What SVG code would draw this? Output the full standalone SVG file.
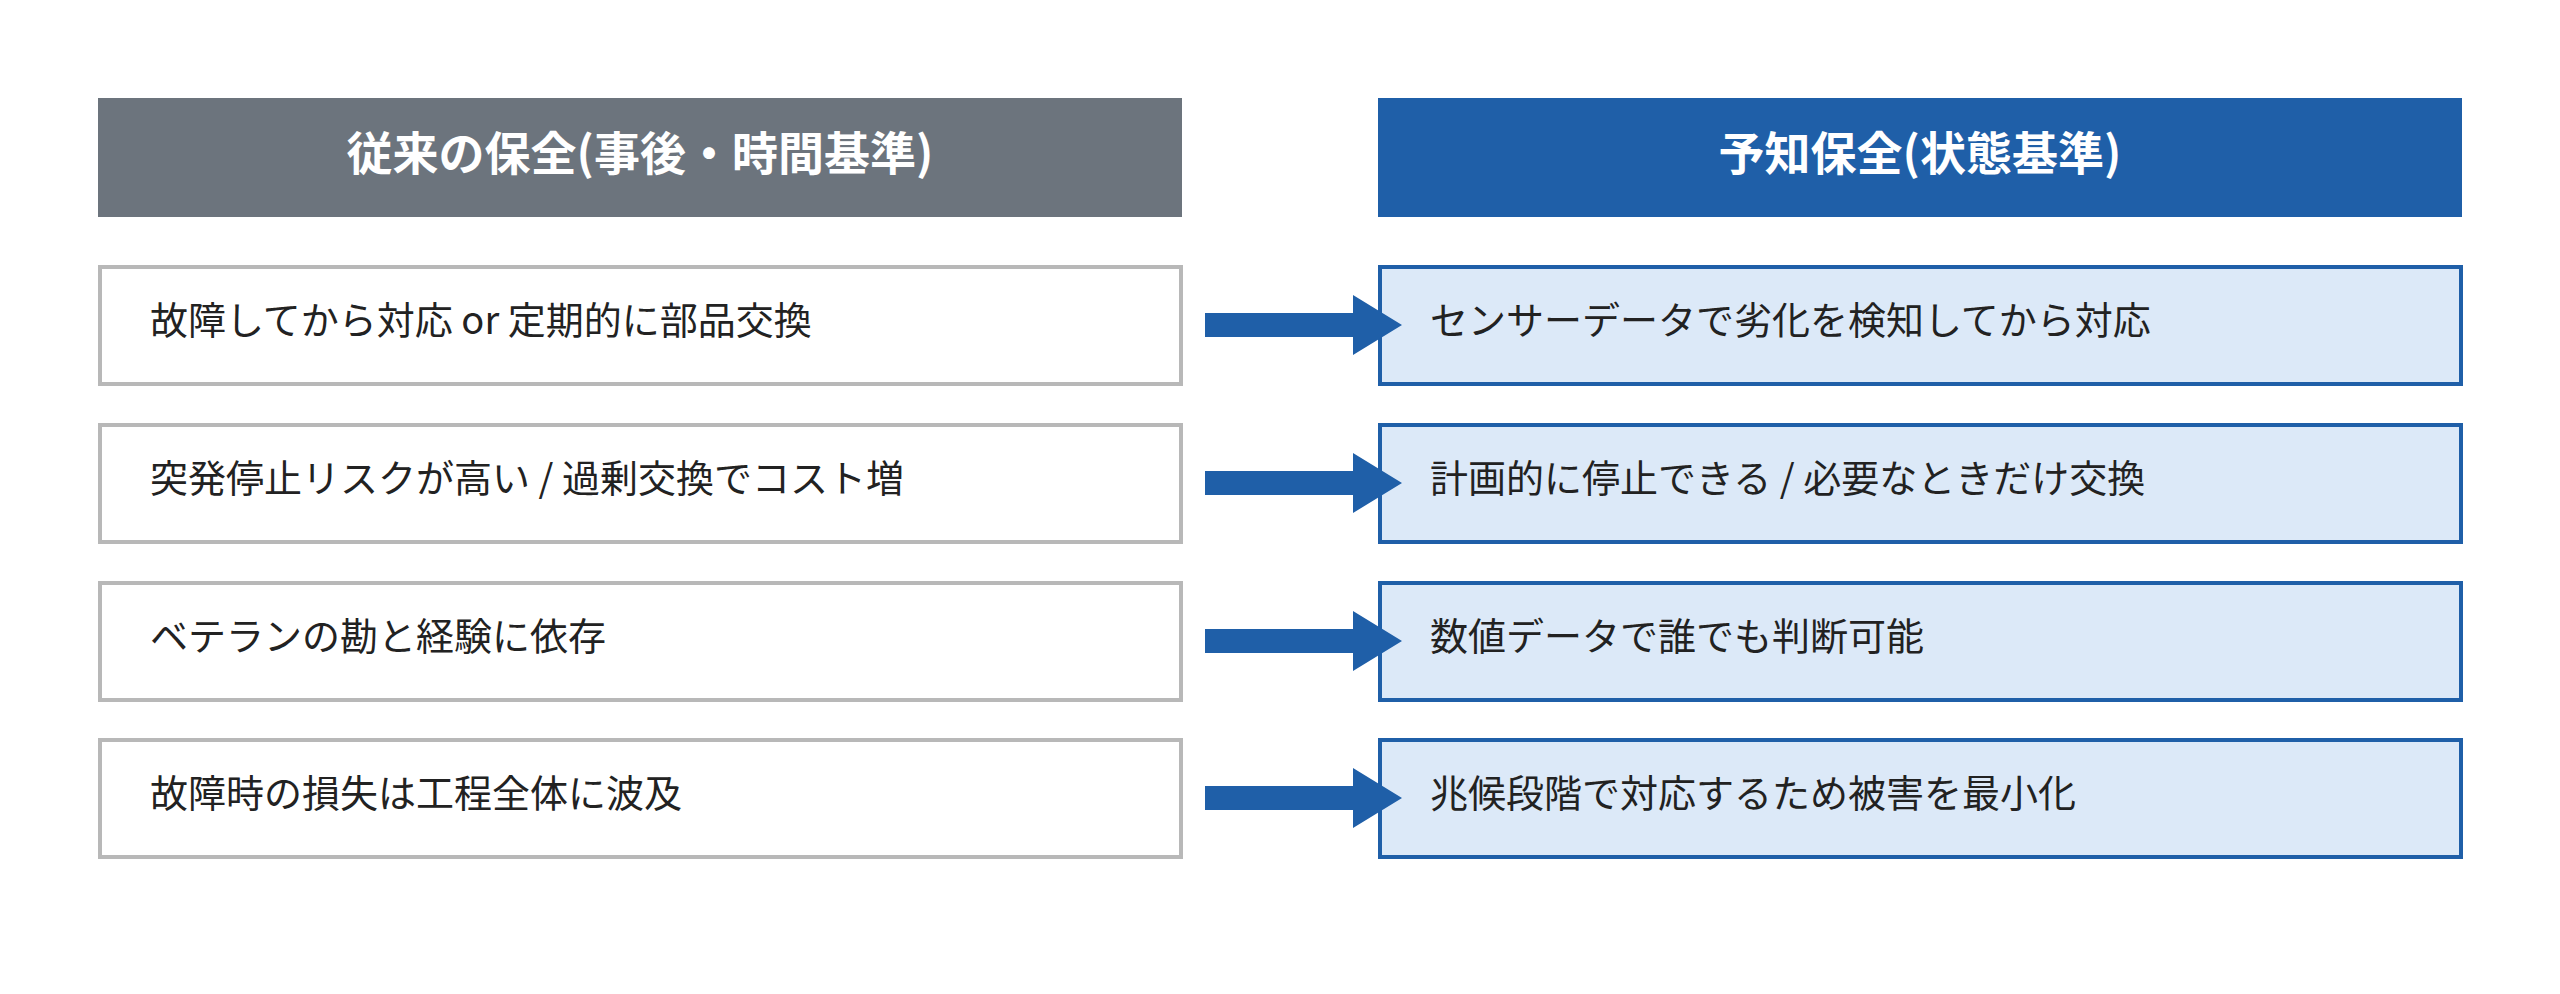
<svg xmlns="http://www.w3.org/2000/svg" width="2560" height="994" viewBox="0 0 2560 994">
<style>
.h{font-family:"Noto Sans CJK JP","Noto Sans",sans-serif;font-size:46px;font-weight:bold;fill:#fff;text-anchor:middle;dominant-baseline:central}
.t{font-family:"Noto Sans CJK JP","Noto Sans",sans-serif;font-size:38px;fill:#222;dominant-baseline:central}
.l{fill:#fff;stroke:#b8b8b8;stroke-width:4}
.r{fill:#dce9f8;stroke:#1f5fa8;stroke-width:4}
.a{fill:#1f5fa8}
</style>
<rect width="2560" height="994" fill="#fff"/>
<g id="hdr-left"><rect x="98" y="98" width="1084" height="119" fill="#6c747d"/><text class="h" x="640" y="150">従来の保全(事後・時間基準)</text></g>
<g id="hdr-right"><rect x="1378" y="98" width="1084" height="119" fill="#1f5fa8"/><text class="h" x="1920" y="150">予知保全(状態基準)</text></g>
<g id="l1"><rect class="l" x="100" y="267" width="1081" height="117"/><text class="t" x="150" y="317">故障してから対応 or 定期的に部品交換</text></g>
<g id="l2"><rect class="l" x="100" y="425" width="1081" height="117"/><text class="t" x="150" y="475">突発停止リスクが高い / 過剰交換でコスト増</text></g>
<g id="l3"><rect class="l" x="100" y="583" width="1081" height="117"/><text class="t" x="150" y="633">ベテランの勘と経験に依存</text></g>
<g id="l4"><rect class="l" x="100" y="740" width="1081" height="117"/><text class="t" x="150" y="790">故障時の損失は工程全体に波及</text></g>
<g id="r1"><rect class="r" x="1380" y="267" width="1081" height="117"/><text class="t" x="1430" y="317">センサーデータで劣化を検知してから対応</text></g>
<g id="r2"><rect class="r" x="1380" y="425" width="1081" height="117"/><text class="t" x="1430" y="475">計画的に停止できる / 必要なときだけ交換</text></g>
<g id="r3"><rect class="r" x="1380" y="583" width="1081" height="117"/><text class="t" x="1430" y="633">数値データで誰でも判断可能</text></g>
<g id="r4"><rect class="r" x="1380" y="740" width="1081" height="117"/><text class="t" x="1430" y="790">兆候段階で対応するため被害を最小化</text></g>
<g id="connectors">
<path class="a" d="M1205 313H1353V295L1402 325L1353 355V337H1205Z"/>
<path class="a" d="M1205 313H1353V295L1402 325L1353 355V337H1205Z" transform="translate(0,158)"/>
<path class="a" d="M1205 313H1353V295L1402 325L1353 355V337H1205Z" transform="translate(0,316)"/>
<path class="a" d="M1205 313H1353V295L1402 325L1353 355V337H1205Z" transform="translate(0,473)"/>
</g>
</svg>
